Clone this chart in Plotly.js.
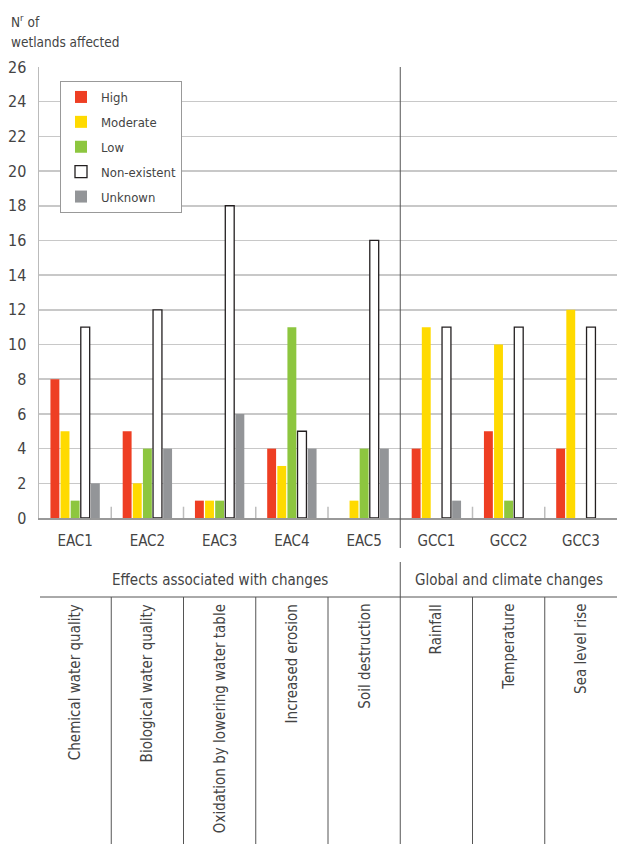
<!DOCTYPE html>
<html>
<head>
<meta charset="utf-8">
<script src="https://cdn.plot.ly/plotly-3.0.1.min.js"></script>
<style>html,body{margin:0;padding:0;background:#fff;}#chart{width:617px;height:844px;}</style>
</head>
<body>
<div id="chart"></div>
<script>
// ---- data ----
const categories = ["EAC1","EAC2","EAC3","EAC4","EAC5","GCC1","GCC2","GCC3"];
const descriptions = ["Chemical water quality","Biological water quality","Oxidation by lowering water table","Increased erosion","Soil destruction","Rainfall","Temperature","Sea level rise"];
const groupTitles = ["Effects associated with changes","Global and climate changes"];
const seriesNames = ["High","Moderate","Low","Non-existent","Unknown"];
const high        = [8, 5, 1, 4, 0, 4, 5, 4];
const moderate    = [5, 2, 1, 3, 1, 11, 10, 12];
const low         = [1, 4, 1, 11, 4, 0, 1, 0];
const nonExistent = [11, 12, 18, 5, 16, 11, 11, 11];
const unknown     = [2, 4, 6, 4, 4, 1, 0, 0];
const yTicks = [0,2,4,6,8,10,12,14,16,18,20,22,24,26];

// ---- layout helpers ----
const FONT = "DejaVu Sans Condensed, Liberation Sans Narrow, Arial Narrow, sans-serif";
const L = 39, R = 617, T = 67, B = 518, W = 844;
const px = x => (x - L) / (R - L);
const py = y => (B - y) / (B - T);
const xs = categories.map((c, i) => i);

const colors = ["#EE3E23", "#FFDA00", "#8DC63F", "#FFFFFF", "#939598"];
const values = [high, moderate, low, nonExistent, unknown];

const traces = values.map((v, k) => ({
  type: "bar",
  name: seriesNames[k],
  x: xs,
  y: v,
  legendgroup: "g" + k,
  marker: {
    color: colors[k],
    line: { color: k === 3 ? "#231F20" : colors[k], width: k === 3 ? 1.3 : 0 }
  },
  hoverinfo: "x+y+name"
}));

const shapes = [];
const separators = [0.5, 1.5, 2.5, 3.5, 5.5, 6.5];
separators.forEach(s => {
  shapes.push({ type: "line", xref: "x", yref: "y", x0: s, x1: s, y0: 0, y1: 0.65,
    line: { color: "#bdbdbd", width: 1.5 } });
  shapes.push({ type: "line", xref: "x", yref: "paper", x0: s, x1: s, y0: py(597), y1: py(W),
    line: { color: "#555", width: 1 } });
});
shapes.push({ type: "line", xref: "x", yref: "paper", x0: 4.5, x1: 4.5, y0: py(548), y1: 1,
  line: { color: "#555", width: 1 } });
shapes.push({ type: "line", xref: "x", yref: "paper", x0: 4.5, x1: 4.5, y0: py(562), y1: py(W),
  line: { color: "#555", width: 1 } });
shapes.push({ type: "line", xref: "paper", yref: "paper", x0: px(40), x1: 1, y0: py(597), y1: py(597),
  line: { color: "#555", width: 1 } });

const annotations = [];
annotations.push({
  xref: "paper", yref: "paper", x: px(9), y: py(21), xanchor: "left", yanchor: "middle",
  align: "left", showarrow: false,
  text: "N<sup>r</sup> of",
  font: { family: FONT, size: 13.5, color: "#444" }
});
annotations.push({
  xref: "paper", yref: "paper", x: px(9), y: py(42), xanchor: "left", yanchor: "middle",
  align: "left", showarrow: false,
  text: "wetlands affected",
  font: { family: FONT, size: 13.5, color: "#444" }
});
annotations.push({ xref: "x", yref: "paper", x: 2, y: py(580), xanchor: "center", yanchor: "middle",
  showarrow: false, text: groupTitles[0], font: { family: FONT, size: 15, color: "#444" } });
annotations.push({ xref: "x", yref: "paper", x: 6, y: py(580), xanchor: "center", yanchor: "middle",
  showarrow: false, text: groupTitles[1], font: { family: FONT, size: 15, color: "#444" } });
descriptions.forEach((d, i) => {
  annotations.push({ xref: "x", yref: "paper", x: i, y: py(602), xanchor: "center", yanchor: "top",
    textangle: -90, showarrow: false, text: d, font: { family: FONT, size: 15, color: "#444" } });
});

const layout = {
  width: 617, height: 844,
  margin: { l: L, r: 0, t: T, b: W - B, pad: 0 },
  paper_bgcolor: "#fff", plot_bgcolor: "#fff",
  font: { family: FONT, color: "#444" },
  barmode: "group", bargap: 0.3, bargroupgap: 0.12,
  showlegend: true,
  legend: {
    x: px(60), y: py(81), xanchor: "left", yanchor: "top",
    bgcolor: "#fff", bordercolor: "#999", borderwidth: 1,
    font: { family: FONT, size: 13, color: "#444" },
    tracegroupgap: 5, traceorder: "grouped"
  },
  xaxis: {
    range: [-0.5, 7.5], tickmode: "array", tickvals: xs, ticktext: categories,
    showgrid: false, zeroline: false, showline: true, linecolor: "#999", linewidth: 1.5,
    ticks: "", tickfont: { family: FONT, size: 15, color: "#444" }, ticklabelstandoff: 8,
    fixedrange: true
  },
  yaxis: {
    range: [0, 26], tickmode: "array", tickvals: yTicks,
    showgrid: true, gridcolor: "#c8c8c8", gridwidth: 1.5,
    zeroline: false, showline: true, linecolor: "#bbb", linewidth: 1.5,
    ticks: "", tickfont: { family: FONT, size: 16, color: "#444" }, ticklabelstandoff: 8,
    fixedrange: true
  },
  shapes: shapes,
  annotations: annotations
};

Plotly.newPlot("chart", traces, layout, { displayModeBar: false, staticPlot: true });
</script>
</body>
</html>
